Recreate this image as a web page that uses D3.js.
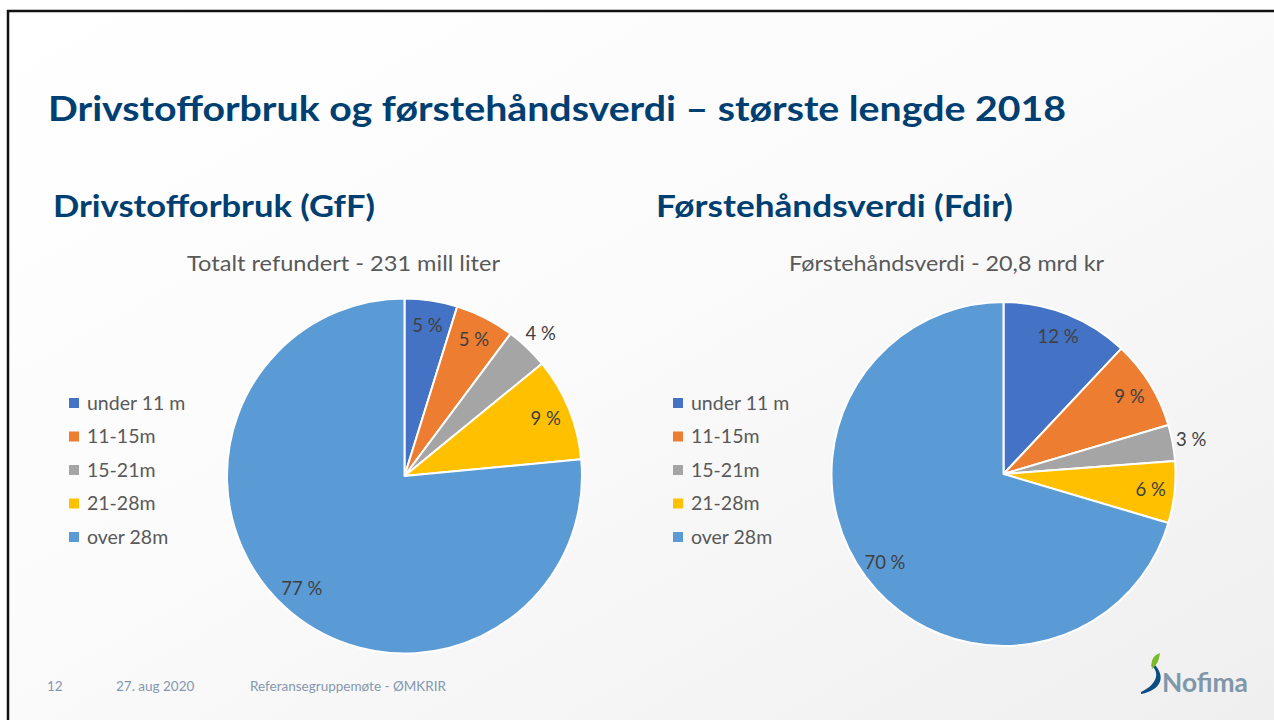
<!DOCTYPE html>
<html><head><meta charset="utf-8">
<script src="https://cdn.jsdelivr.net/npm/d3@7"></script>
<style>
html,body{margin:0;padding:0;background:#fff;}
svg{display:block;}
text{font-family:Lato,"Open Sans",sans-serif;}
</style></head>
<body>
<svg id="c" width="1274" height="720"></svg>
<script>
// ---- data ----
const categories = ["under 11 m", "11-15m", "15-21m", "21-28m", "over 28m"];
const fuelValues = [4.8, 5.4, 3.9, 9.4, 76.5];   // Drivstofforbruk (GfF), %
const valueValues = [12.0, 8.4, 3.4, 5.8, 70.4]; // Førstehåndsverdi (Fdir), %
const fuelLabels = ["5 %", "5 %", "4 %", "9 %", "77 %"];
const valueLabels = ["12 %", "9 %", "3 %", "6 %", "70 %"];
const colors = ["#4472C4", "#ED7D31", "#A5A5A5", "#FFC000", "#5B9BD5"];

const mainTitle = "Drivstofforbruk og førstehåndsverdi – største lengde 2018";
const leftHeading = "Drivstofforbruk (GfF)";
const rightHeading = "Førstehåndsverdi (Fdir)";
const leftChartTitle = "Totalt refundert - 231 mill liter";
const rightChartTitle = "Førstehåndsverdi - 20,8 mrd kr";
const footer = ["12", "27. aug 2020", "Referansegruppemøte - ØMKRIR"];

const svg = d3.select("#c");
const defs = svg.append("defs");
const g = defs.append("linearGradient").attr("id","bg").attr("x1","0").attr("y1","0").attr("x2","1").attr("y2","1");
g.append("stop").attr("offset","0").attr("stop-color","#ffffff");
g.append("stop").attr("offset","0.45").attr("stop-color","#fbfbfb");
g.append("stop").attr("offset","1").attr("stop-color","#efefef");

svg.append("rect").attr("width",1274).attr("height",720).attr("fill","#fff");
svg.append("rect").attr("x",8).attr("y",11).attr("width",1266).attr("height",709).attr("fill","url(#bg)");
// frame lines
svg.append("line").attr("x1",7).attr("x2",1274).attr("y1",11).attr("y2",11).attr("stroke","#111").attr("stroke-width",2.5);
svg.append("line").attr("x1",8).attr("x2",8).attr("y1",10).attr("y2",720).attr("stroke","#111").attr("stroke-width",2.5);

function fitText(sel, w){ sel.attr("textLength", w).attr("lengthAdjust","spacingAndGlyphs"); return sel; }

fitText(svg.append("text").attr("x",48).attr("y",121).attr("font-size",35).attr("font-weight",700)
  .attr("fill","#003F72").text(mainTitle), 1018);
fitText(svg.append("text").attr("x",53).attr("y",217).attr("font-size",30).attr("font-weight",700)
  .attr("fill","#003F72").text(leftHeading), 322);
fitText(svg.append("text").attr("x",656).attr("y",217).attr("font-size",30).attr("font-weight",700)
  .attr("fill","#003F72").text(rightHeading), 357);

fitText(svg.append("text").attr("x",187).attr("y",271).attr("font-size",21.5)
  .attr("fill","#595959").text(leftChartTitle), 313);
fitText(svg.append("text").attr("x",789).attr("y",271).attr("font-size",21.5)
  .attr("fill","#595959").text(rightChartTitle), 315);

function drawPie(values, labels, cx, cy, r, legendX){
  const pie = d3.pie().sort(null).value(d=>d);
  const arcs = pie(values);
  const arc = d3.arc().innerRadius(0).outerRadius(r);
  const gp = svg.append("g").attr("transform",`translate(${cx},${cy})`);
  gp.selectAll("path").data(arcs).join("path")
    .attr("d",arc).attr("fill",(d,i)=>colors[i])
    .attr("stroke","#fff").attr("stroke-width",2).attr("stroke-linejoin","round");
  gp.selectAll("text").data(arcs).join("text")
    .attr("transform",d=>{
      const a=(d.startAngle+d.endAngle)/2;
      const rr = d.value < 4.5 ? r*1.11 : r*0.86;
      return `translate(${Math.sin(a)*rr},${-Math.cos(a)*rr})`;
    })
    .attr("text-anchor","middle").attr("dy","0.35em")
    .attr("font-size",18.5).attr("fill","#404040")
    .text((d,i)=>labels[i]);
  const lg = svg.append("g");
  const y = d3.scalePoint().domain(categories).range([403,537]);
  categories.forEach(c=>{
    lg.append("rect").attr("x",legendX).attr("y",y(c)-5).attr("width",10).attr("height",10).attr("fill",colors[categories.indexOf(c)]);
    lg.append("text").attr("x",legendX+18).attr("y",y(c)).attr("dy","0.35em").attr("font-size",19.5)
      .attr("fill","#595959").text(c);
  });
}
drawPie(fuelValues, fuelLabels, 404.5, 476, 177.5, 69);
drawPie(valueValues, valueLabels, 1003.5, 474, 172, 673);

// footer
const fx = [47, 116, 250];
footer.forEach((t,i)=>{
  svg.append("text").attr("x",fx[i]).attr("y",691).attr("font-size",13.5).attr("fill","#8497B0").text(t);
});

// logo
const logo = svg.append("g");
logo.append("path").attr("d","M1151,665 C1160,672 1158,684 1141,692 L1141,694 C1162,690 1166,676 1154,664 Z").attr("fill","#0B4C82");
logo.append("path").attr("d","M1152,669 C1150,660 1154,655 1160,653 C1159,659 1158,664 1152,669 Z").attr("fill","#7AB929");
fitText(logo.append("text").attr("x",1162).attr("y",692).attr("font-size",26).attr("font-weight",700)
  .attr("fill","#7F97A8").text("Nofima"), 86);
</script>
</body></html>
